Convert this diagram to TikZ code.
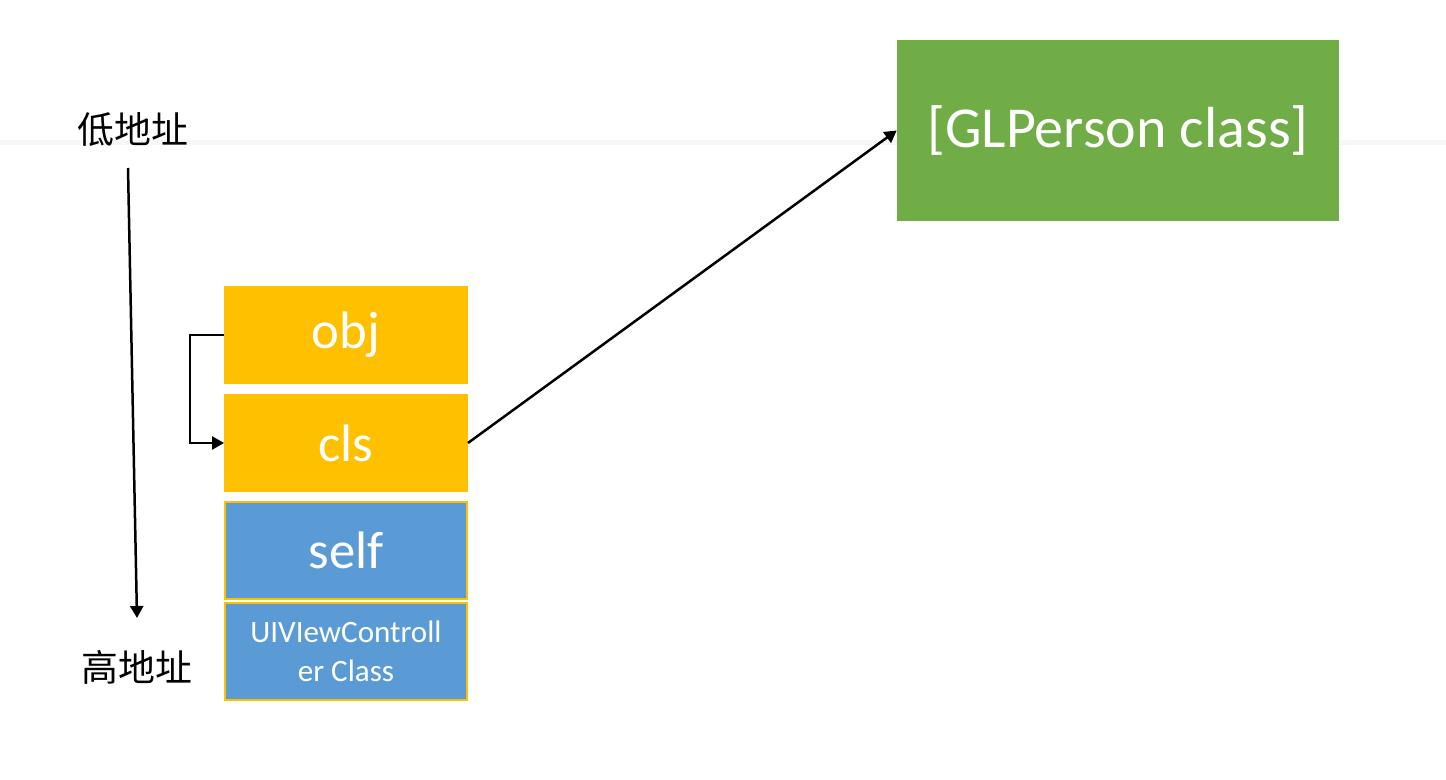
\documentclass[tikz,border=0pt]{standalone}
\usepackage{fontspec}
\setmainfont{Carlito}
\newfontfamily\cjk{Noto Sans CJK SC}
\usetikzlibrary{arrows.meta, positioning}
\definecolor{slotyellow}{RGB}{255, 192, 0}
\definecolor{slotblue}{RGB}{91, 155, 213}
\definecolor{classgreen}{RGB}{112, 173, 71}

\begin{document}
\begin{tikzpicture}[
  x=0.02cm, y=-0.02cm,
  slot/.style={rectangle, inner sep=0pt, outer sep=0pt, minimum width=4.88cm, minimum height=1.96cm, text centered, text=white, fill=slotyellow, font=\fontsize{30}{36}\selectfont},
  bslot/.style={slot, fill=slotblue, draw=slotyellow, line width=0.04cm, minimum width=4.84cm, minimum height=1.94cm},
  addr/.style={font=\cjk\fontsize{21}{25}\selectfont},
  arrow/.style={-{Triangle[length=0.24cm, width=0.26cm]}, line width=0.05cm},
]
  \useasboundingbox (0,0) rectangle (1446,780);
  \fill[black!3] (0,140) rectangle (1446,145);

  % stack
  \node[slot] (obj) at (346,335) {obj};
  \node[slot, below=0.2cm of obj] (cls) {cls};
  \node[bslot, below=0.2cm of cls] (self) {self};
  \node[bslot, below=0.08cm of self, align=center, font=\fontsize{17.7}{22}\selectfont] (vc) {UIVIewControll\\er Class};

  \node[rectangle, fill=classgreen, text=white, minimum width=8.84cm, minimum height=3.62cm, font=\fontsize{33}{40}\selectfont] (person) at (1118,130.5) {[GLPerson class]};

  % address direction
  \node[addr] (low) at (133,130) {低地址};
  \node[addr] (high) at (137,667) {高地址};
  \coordinate (downstart) at (128,168);
  \coordinate (downend) at (137,618);
  \draw[arrow] (downstart) -- (downend);

  \draw[arrow] (obj.west) -- ++(-34,0) |- (cls.west);
  \draw[arrow] (cls.east) -- (person.west);
\end{tikzpicture}
\end{document}
